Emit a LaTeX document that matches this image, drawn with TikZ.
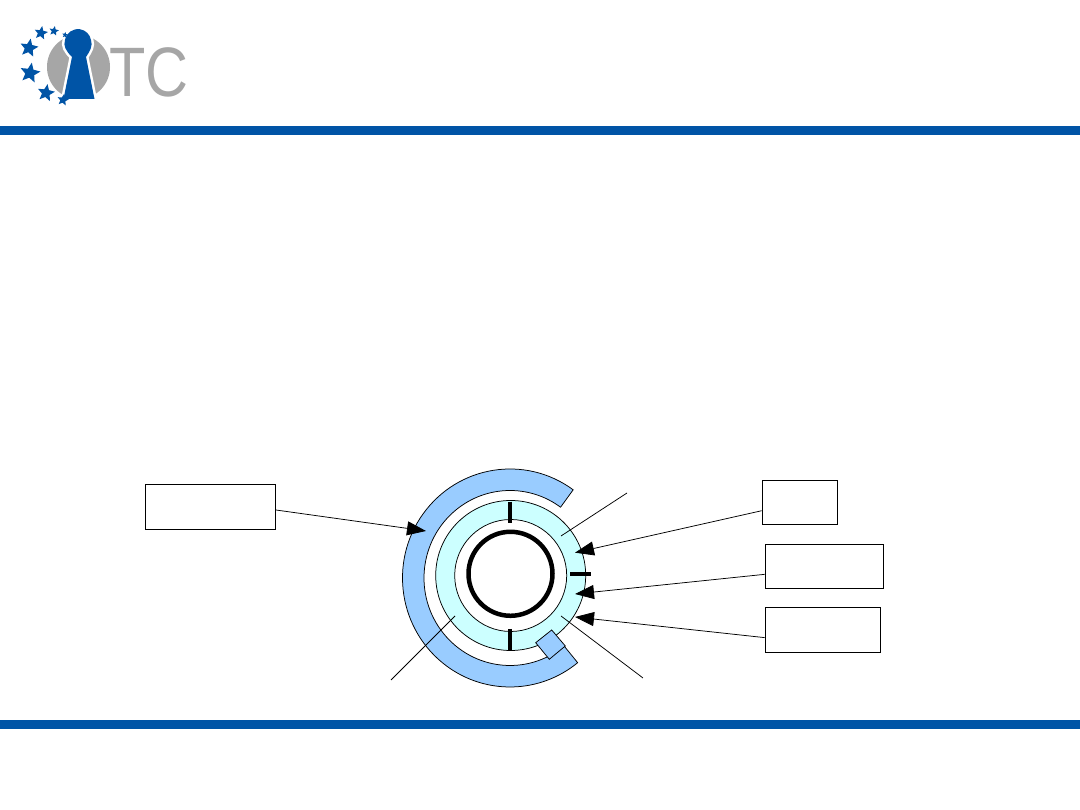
\documentclass[tikz,border=0pt]{standalone}
\usepackage{xcolor}
\usepackage{fontspec}
\setmainfont{Liberation Sans}
\usetikzlibrary{calc,arrows.meta,shapes.geometric}
\definecolor{barblue}{HTML}{0054A6}
\definecolor{ringblue}{HTML}{99CCFF}
\definecolor{ringcyan}{HTML}{CCFFFF}
\definecolor{logogrey}{HTML}{A6A6A6}
\tikzset{
  thin line/.style={draw=black, line width=0.75pt},
  labelbox/.style={rectangle, draw=black, line width=0.75pt, fill=white, inner sep=0pt},
  pointer/.style={thin line, -{Triangle[length=19pt,width=14pt]}},
  tick/.style={draw=black, line width=4pt},
  bar/.style={fill=barblue, draw=none},
  euro/.style={star, star points=5, star point ratio=2.2, fill=barblue, inner sep=0pt, rotate=-10},
}
\begin{document}
\begin{tikzpicture}[x=1pt,y=1pt]
  \useasboundingbox (0,0) rectangle (1080,810);
  \fill[white] (0,0) rectangle (1080,810);
  \coordinate (ctr) at (510.7,234.5);
  \coordinate (blue) at (510,232);

  % page bars
  \path[bar] (0,675) rectangle (1080,684);
  \path[bar] (0,81) rectangle (1080,90);

  % logo
  \fill[logogrey] (78.5,743) ellipse (31.5 and 32);
  \path[fill=barblue,draw=white,line width=5pt,line join=round]
    (72,753) .. controls (66,759) and (63,764) .. (65,770)
    arc[start angle=170,end angle=10,radius=13.2] .. controls (93,764) and (90,759) .. (86,753)
    -- (94.5,711) -- (63.5,711) -- cycle;
  \path[fill=barblue]
    (72,753) .. controls (66,759) and (63,764) .. (65,770)
    arc[start angle=170,end angle=10,radius=13.2] .. controls (93,764) and (90,759) .. (86,753)
    -- (94.5,711) -- (63.5,711) -- cycle;
  \foreach \n/\px/\py/\sz in {a/29/762/19, b/30/737/21, c/46/717/18, d/63/710/12, e/41/777/14, f/54/779/10, g/65/775/6}
    \node[euro,minimum size=\sz pt] (star\n) at (\px,\py) {};
  \node[text=logogrey,font=\fontsize{70}{70}\selectfont,inner sep=0pt,anchor=base west,xscale=0.85,transform shape] (logotext) at (109,713) {TC};

  % rings
  \path[thin line,fill=ringcyan,even odd rule] (ctr) circle (75) (ctr) circle (56);
  \path[thin line,fill=ringblue]
    ([shift={(blue)}]54:107.5 and 109)
    arc[start angle=54,end angle=309,x radius=107.5,y radius=109]
    -- ([shift={(blue)}]309:86 and 87.5)
    arc[start angle=309,end angle=54,x radius=86,y radius=87.5] -- cycle;
  \path[thin line,fill=ringblue] (551.7,180) -- (565.3,164) -- (549.3,150.7) -- (535.7,167.3) -- cycle;
  \draw[black,line width=4.5pt] (510.5,236.2) circle (42);

  \draw[tick] (510,308.3) -- (510,287.3);
  \draw[tick] (570,236) -- (591,236);
  \draw[tick] (510,181) -- (510,159);

  % boxes
  \node[labelbox,minimum width=130pt,minimum height=45pt] (boxa) at (210,303.5) {};
  \node[labelbox,minimum width=75pt,minimum height=44pt] (boxb) at (799.5,308) {};
  \node[labelbox,minimum width=118pt,minimum height=44pt] (boxc) at (824,244) {};
  \node[labelbox,minimum width=115pt,minimum height=45pt] (boxd) at (822.5,180.5) {};

  % arrows
  \coordinate (tipa) at (426,279);
  \coordinate (tipb) at (575,257.3);
  \coordinate (tipc) at (575,216);
  \coordinate (tipd) at (575,193);
  \draw[pointer] (boxa.-3) -- (tipa);
  \draw[pointer] (boxb.193) -- (tipb);
  \draw[pointer] (boxc.188) -- (tipc);
  \draw[pointer] (boxd.188) -- (tipd);

  % leaders
  \coordinate (lead1) at (627,317);
  \coordinate (end1) at (561,274);
  \coordinate (lead2) at (391,130);
  \coordinate (end2) at (455,194);
  \coordinate (lead3) at (643,132);
  \coordinate (end3) at (561,194);
  \draw[thin line] (lead1) -- (end1);
  \draw[thin line] (lead2) -- (end2);
  \draw[thin line] (lead3) -- (end3);
\end{tikzpicture}
\end{document}
